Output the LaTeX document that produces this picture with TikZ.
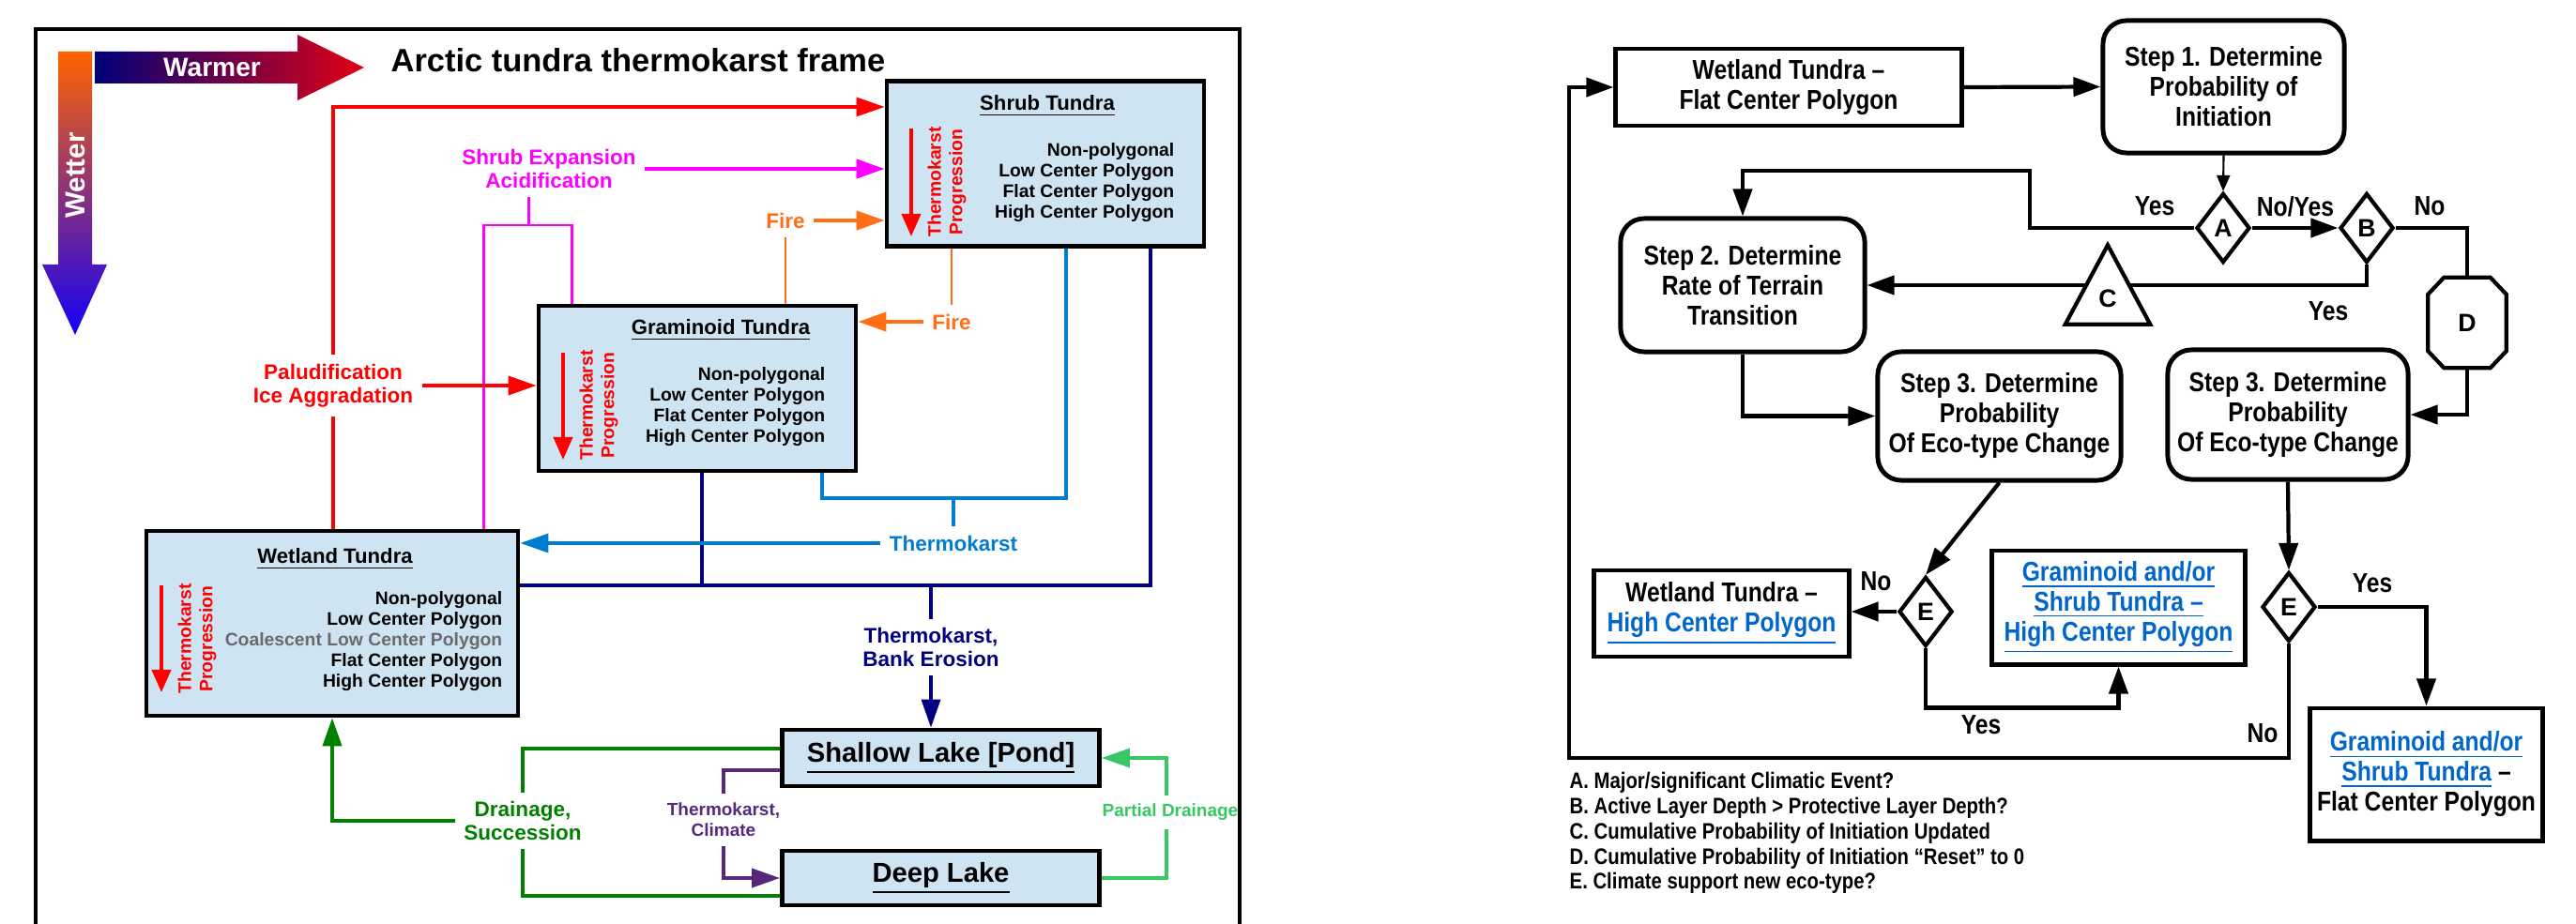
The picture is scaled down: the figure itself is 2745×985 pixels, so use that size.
\documentclass[tikz,border=0pt]{standalone}
\usepackage{fontspec}
\setmainfont{Liberation Sans}
\newfontfamily\narrow{Liberation Sans}[FakeStretch=0.85]
\usepackage{tikz}
\usetikzlibrary{arrows.meta, positioning, calc, shapes.geometric}

\definecolor{BoxBlue}{RGB}{207,228,242}
\definecolor{ShrubMagenta}{RGB}{255,0,255}
\definecolor{FireOrange}{RGB}{255,110,20}
\definecolor{KarstBlue}{RGB}{0,125,210}
\definecolor{BankNavy}{RGB}{0,0,128}
\definecolor{DrainGreen}{RGB}{0,128,0}
\definecolor{PondGreen}{RGB}{55,200,100}
\definecolor{ClimPurple}{RGB}{85,40,125}
\definecolor{LinkBlue}{RGB}{0,102,204}
\definecolor{CoalGray}{RGB}{105,105,105}
\definecolor{WarmNavy}{RGB}{0,0,120}
\definecolor{WarmMid}{RGB}{135,0,75}
\definecolor{WarmRed}{RGB}{225,0,20}
\definecolor{WetOrange}{RGB}{255,100,0}
\definecolor{WetPurple}{RGB}{110,50,170}
\definecolor{WetBlue}{RGB}{20,0,245}

\newcommand{\lnk}[1]{\textcolor{LinkBlue}{\underline{#1}}}

\begin{document}
\begin{tikzpicture}[x=0.01cm, y=-0.01cm, font=\bfseries,
	tundra/.style={draw, line width=1.3pt, fill=BoxBlue, minimum width=3.38cm, minimum height=1.76cm},
	lake/.style={tundra, minimum height=0.6cm, font=\fontsize{8.3}{9}\selectfont\bfseries},
	ttl/.style={font=\fontsize{6.3}{7}\selectfont\bfseries},
	items/.style={anchor=east, align=right, inner sep=0pt, font=\fontsize{5.5}{6.26}\selectfont\bfseries},
	prog/.style={rotate=90, align=center, text=red, inner sep=0pt, font=\fontsize{5.5}{6.5}\selectfont\bfseries},
	prarr/.style={red, line width=1.1pt, -{Triangle[length=0.24cm, width=0.2cm]}},
	lbl/.style={align=center, inner sep=2.5pt, font=\fontsize{6.4}{7.1}\selectfont\bfseries},
	small/.style={align=center, inner sep=2.5pt, font=\fontsize{5.4}{6.3}\selectfont\bfseries},
	ln/.style={line width=0.9pt},
	fl/.style={ln, -{Triangle[length=0.3cm, width=0.2cm]}},
	rbox/.style={draw, line width=1.4pt, fill=white, align=center, inner sep=2pt,
		font=\narrow\fontsize{8.25}{9.1}\selectfont\bfseries},
	rstep/.style={rbox, rounded corners=0.25cm},
	rdec/.style={diamond, draw, line width=1.2pt, fill=white, inner sep=0pt,
		minimum width=0.57cm, minimum height=0.74cm, font=\fontsize{7.6}{8}\selectfont\bfseries},
	rtxt/.style={font=\narrow\fontsize{8.25}{9.1}\selectfont\bfseries},
	rl/.style={line width=1.2pt},
	rfl/.style={rl, -{Triangle[length=0.29cm, width=0.2cm]}}]

	\useasboundingbox (0,0) rectangle (2745,985);

	% ---------- left: thermokarst frame ----------
	\draw[line width=1.1pt] (38,990) -- (38,31) -- (1321,31) -- (1321,990);

	\shade[top color=WetOrange, middle color=WetPurple, bottom color=WetBlue]
		(62,55) -- (98,55) -- (98,282) -- (114,282) -- (80,357) -- (45,282) -- (62,282) -- cycle;
	\shade[left color=WarmNavy, middle color=WarmMid, right color=WarmRed]
		(101,55) -- (317,55) -- (317,37) -- (388,72) -- (317,107) -- (317,89) -- (101,89) -- cycle;
	\node[text=white, font=\fontsize{8}{9}\selectfont\bfseries] (warmer) at (226,72) {Warmer};
	\node[text=white, rotate=90, font=\fontsize{8.4}{9}\selectfont\bfseries] (wetter) at (80,187) {Wetter};
	\node[font=\fontsize{9.8}{11}\selectfont\bfseries] (title) at (680,64) {Arctic tundra thermokarst frame};

	\node[tundra] (shrub) at (1114,174.5) {};
	\node[tundra] (gram) at (743,414) {};
	\node[tundra, minimum width=3.96cm, minimum height=1.97cm] (wetl) at (354,664.5) {};
	\node[lake] (shallow) at (1002.5,808) {\underline{Shallow Lake [Pond]}};
	\node[lake, minimum height=0.58cm] (deep) at (1002.5,936) {\underline{Deep Lake}};

	\node[ttl] (shrubT) at (1116,113) {\underline{Shrub Tundra}};
	\node[items] (shrubL) at (1252,195) {Non-polygonal\\Low Center Polygon\\Flat Center Polygon\\High Center Polygon};
	\draw[prarr] (971,137) -- (971,252);
	\node[prog] (shrubP) at (1009,194) {Thermokarst\\Progression};

	\node[ttl] (gramT) at (768,352) {\underline{Graminoid Tundra}};
	\node[items] (gramL) at (880,434) {Non-polygonal\\Low Center Polygon\\Flat Center Polygon\\High Center Polygon};
	\draw[prarr] (600,376) -- (600,490);
	\node[prog] (gramP) at (638,432) {Thermokarst\\Progression};

	\node[ttl] (wetlT) at (357,596) {\underline{Wetland Tundra}};
	\node[items] (wetlL) at (536,684) {Non-polygonal\\Low Center Polygon\\\textcolor{CoalGray}{Coalescent Low Center Polygon}\\Flat Center Polygon\\High Center Polygon};
	\draw[prarr] (172,624) -- (172,738);
	\node[prog] (wetlP) at (210,681) {Thermokarst\\Progression};

	% labels
	\node[lbl, text=ShrubMagenta] (shrubexp) at (585,180) {Shrub Expansion\\Acidification};
	\node[lbl, text=red] (palu) at (355,411) {Paludification\\Ice Aggradation};
	\node[lbl, text=FireOrange] (fire1) at (837,235) {Fire};
	\node[lbl, text=FireOrange] (fire2) at (1014,343) {Fire};
	\node[lbl, text=KarstBlue] (karst) at (1016,579) {Thermokarst};
	\node[lbl, text=BankNavy] (bank) at (992,690) {Thermokarst,\\Bank Erosion};
	\node[lbl, text=DrainGreen] (drain) at (557,875) {Drainage,\\Succession};
	\node[small, text=ClimPurple] (clim) at (771,874) {Thermokarst,\\Climate};
	\node[small, text=PondGreen] (partial) at (1247,866) {Partial Drainage};

	\coordinate (magL) at (515,240);
	\coordinate (magM) at (563,240);
	\coordinate (magR) at (609,240);
	\coordinate (blueL) at (876,531);
	\coordinate (blueR) at (1136,531);
	\coordinate (navyL) at (748,624);
	\coordinate (navyR) at (1226,624);

	% connectors
	\draw[ShrubMagenta, line width=0.85pt] (magL |- wetl.north) -- (magL) -- (magR) -- (magR |- gram.north);
	\draw[ShrubMagenta, line width=0.85pt] (magM |- shrubexp.south) -- (magM);
	\draw[fl, ShrubMagenta, line width=1.2pt] (shrubexp.east) -- (shrubexp.east -| shrub.west);

	\draw[ln, red] (palu.south |- wetl.north) -- (palu.south);
	\draw[fl, red] (palu.north) |- ([yshift=0.605cm]shrub.west);
	\draw[fl, red, line width=1.1pt] (palu.east) -- (palu.east -| gram.west);

	\draw[FireOrange, line width=0.7pt] (fire1.south) -- (fire1.south |- gram.north);
	\draw[fl, FireOrange, line width=1.2pt] (fire1.east) -- (fire1.east -| shrub.west);
	\draw[FireOrange, line width=0.7pt] (fire2.north) -- (fire2.north |- shrub.south);
	\draw[fl, FireOrange, line width=1.2pt] (fire2.west) -- (fire2.west -| gram.east);

	\draw[ln, BankNavy] (wetl.east |- navyL) -- (navyR) -- (navyR |- shrub.south);
	\draw[ln, BankNavy] (navyL |- gram.south) -- (navyL);
	\draw[ln, BankNavy] (bank.north |- navyL) -- (bank.north);
	\draw[fl, BankNavy] (bank.south) -- (bank.south |- shallow.north);

	\draw[ln, KarstBlue] (blueL |- gram.south) -- (blueL) -- (blueR) -- (blueR |- shrub.south);
	\draw[ln, KarstBlue] (karst.north |- blueL) -- (karst.north);
	\draw[fl, KarstBlue] (karst.west) -- (karst.west -| wetl.east);

	\draw[ln, DrainGreen, line width=1.1pt] ([yshift=0.1cm]shallow.west) -| (drain.north);
	\draw[ln, DrainGreen, line width=1.1pt] (drain.south) |- ([yshift=-0.19cm]deep.west);
	\draw[fl, DrainGreen, line width=1.1pt] (drain.west) -| (wetl.south);

	\draw[ln, ClimPurple, line width=1.1pt] ([yshift=-0.13cm]shallow.west) -| (clim.north);
	\draw[fl, ClimPurple, line width=1.1pt] (clim.south) |- (deep.west);

	\draw[ln, PondGreen] (deep.east) -| ([xshift=-0.04cm]partial.south);
	\draw[fl, PondGreen] ([xshift=-0.04cm]partial.north) |- (shallow.east);

	% ---------- right: transition steps ----------
	\node[rbox, minimum width=3.68cm, minimum height=0.82cm] (wtfcp) at (1906,93) {Wetland Tundra –\\Flat Center Polygon};
	\node[rstep, minimum width=2.57cm, minimum height=1.41cm] (step1) at (2369.5,92.5) {Step 1. Determine\\Probability of\\Initiation};
	\node[rdec] (A) at (2369,243) {A};
	\node[rdec] (B) at (2522,243) {B};
	\node[rstep, minimum width=2.6cm, minimum height=1.42cm] (step2) at (1857,304) {Step 2. Determine\\Rate of Terrain\\Transition};
	\node[rstep, minimum width=2.59cm, minimum height=1.37cm] (step3a) at (2130.5,443.5) {Step 3. Determine\\Probability\\Of Eco-type Change};
	\node[rstep, minimum width=2.56cm, minimum height=1.38cm] (step3b) at (2438,442) {Step 3. Determine\\Probability\\Of Eco-type Change};
	\node[inner sep=0pt, minimum width=0.82cm, minimum height=0.95cm, font=\fontsize{7.6}{8}\selectfont\bfseries] (D) at (2629,344) {D};
	\node[rdec] (E1) at (2052,652) {E};
	\node[rdec] (E2) at (2439,647) {E};
	\node[rbox, minimum width=2.71cm, minimum height=0.92cm] (wthcp) at (1834.5,654) {Wetland Tundra –\\\lnk{High Center Polygon}};
	\node[rbox, minimum width=2.69cm, minimum height=1.21cm] (gshcp) at (2257.5,647.5) {\lnk{Graminoid and/or}\\\lnk{Shrub Tundra –}\\\lnk{High Center Polygon}};
	\node[rbox, minimum width=2.47cm, minimum height=1.41cm] (gsfcp) at (2585.5,825.5) {\lnk{Graminoid and/or}\\\lnk{Shrub Tundra} –\\Flat Center Polygon};

	\draw[rl, line join=miter] ($(D.north west)+(17,0)$) -- ($(D.north east)+(-17,0)$) -- ($(D.north east)+(0,18)$)
		-- ($(D.south east)+(0,-18)$) -- ($(D.south east)+(-17,0)$) -- ($(D.south west)+(17,0)$)
		-- ($(D.south west)+(0,-18)$) -- ($(D.north west)+(0,18)$) -- cycle;

	\coordinate (yesup) at (2163,182);
	\coordinate (back) at (1672,808);

	\draw[rfl] (wtfcp.east) -- (step1.west);
	\draw[line width=0.6pt, -{Triangle[length=0.17cm, width=0.14cm]}] (step1.south) -- (A.north);
	\draw[rfl] (A.west) -| (yesup) -| (step2.north);
	\draw[rfl] (A.east) -- (B.west);
	\draw[rl] (B.east) -| (D.north);
	\draw[rfl] (D.south) |- (step3b.east);
	\draw[rfl] (B.south) |- (step2.east);
	\draw[rfl] (step2.south) |- (step3a.west);
	\draw[rfl] (step3a.south) -- (E1.north);
	\draw[rfl] (E1.west) -- (E1.west -| wthcp.east);
	\draw[rfl] (E1.south) |- ($(gshcp.south)+(0,44)$) -- (gshcp.south);
	\draw[rfl] (step3b.south) -- (E2.north);
	\draw[rfl] (E2.east) -| (gsfcp.north);
	\draw[rfl] (E2.south) |- (back) |- (wtfcp.west);

	\node[inner sep=0pt, minimum width=0.89cm, minimum height=0.83cm] (C) at (2246,303.5) {};
	\filldraw[rl, fill=white, line join=miter] (C.north) -- (C.south east) -- (C.south west) -- cycle;
	\node[font=\fontsize{7.6}{8}\selectfont\bfseries] (Ctext) at (2246,318) {C};

	\node[rtxt] (yesA) at (2296,220) {Yes};
	\node[rtxt] (noyes) at (2446,220) {No/Yes};
	\node[rtxt] (noB) at (2589,220) {No};
	\node[rtxt] (yesB) at (2481,332) {Yes};
	\node[rtxt] (noE1) at (1999,620) {No};
	\node[rtxt] (yesE1) at (2111,773) {Yes};
	\node[rtxt] (yesE2) at (2528,622) {Yes};
	\node[rtxt] (noE2) at (2411,782) {No};

	\node[anchor=west, align=left, inner sep=0pt, font=\narrow\fontsize{6.8}{7.65}\selectfont\bfseries] (legend) at (1672,888)
		{A. Major/significant Climatic Event?\\B. Active Layer Depth > Protective Layer Depth?\\C. Cumulative Probability of Initiation Updated\\D. Cumulative Probability of Initiation “Reset” to 0\\E. Climate support new eco-type?};
\end{tikzpicture}
\end{document}
